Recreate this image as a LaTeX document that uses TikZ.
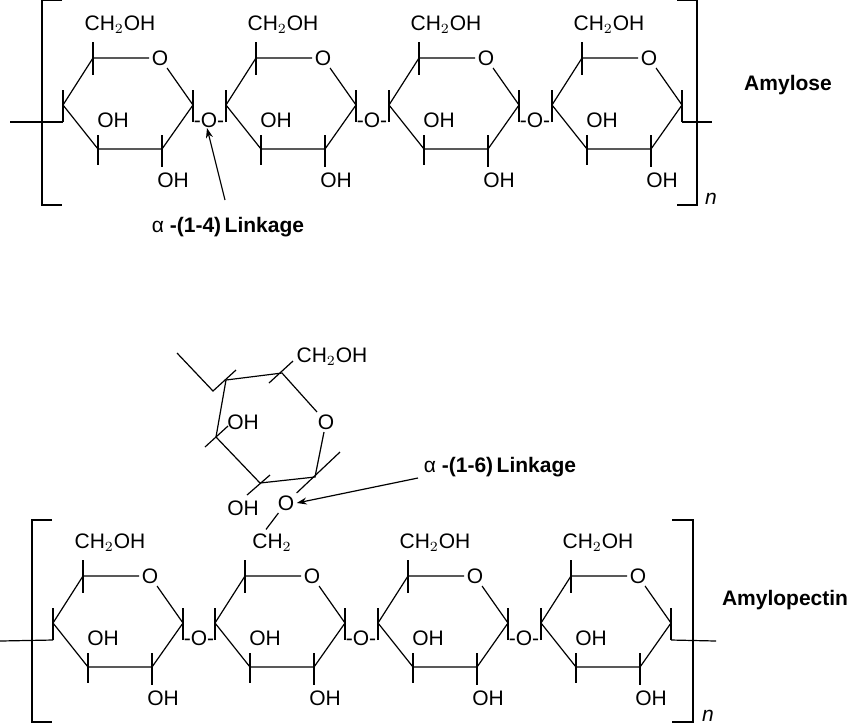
\documentclass[tikz,border=0pt]{standalone}
\usepackage{fontspec}
\setmainfont{Liberation Sans}
\usetikzlibrary{positioning,arrows.meta}

% one glucose ring: #1 name, #2 x, #3 y (left carbon), #4 group on C6
\newcommand\glucring[4]{%
  \begin{scope}[shift={(#2,#3)}]
    \coordinate (#1-L) at (0,0);
    \coordinate (#1-TL) at (30,-47);
    \node [atom] (#1-O) at (97,-47) {O};
    \coordinate (#1-R) at (130,0);
    \coordinate (#1-BR) at (99,44);
    \coordinate (#1-BL) at (35,44);
    \coordinate (#1-Lb) at (0,17);
    \coordinate (#1-Rb) at (130,17);
    \draw (#1-TL) -- (#1-O) -- (#1-R) -- (#1-BR) -- (#1-BL) -- (#1-L) -- (#1-TL);
    \draw (#1-TL) ++(0,-16) -- ++(0,33);
    \draw (#1-Lb) -- ++(0,-32);
    \draw (#1-Rb) -- ++(0,-32);
    \draw (#1-BL) ++(0,-14) -- ++(0,30);
    \draw (#1-BR) ++(0,-14) -- ++(0,32);
    \node [lbl] (#1-oh3) at (50,15) {OH};
    \node [lbl] (#1-oh2) at (110,75) {OH};
    \node [lbl] (#1-c6) at (57,-80) {#4};
  \end{scope}}

\tikzset{
  atom/.style={inner sep=1pt, font=\fontsize{10.5}{12}\selectfont},
  lbl/.style={inner sep=1pt, font=\fontsize{10.5}{12}\selectfont},
  link/.style={inner sep=0pt, font=\fontsize{10.5}{12}\selectfont},
  title/.style={font=\bfseries\fontsize{10.5}{12}\selectfont},
}

\begin{document}
\begin{tikzpicture}[x=0.5pt, y=-0.5pt, line width=0.6pt, >={Stealth[length=5pt,width=3.5pt]}]
  \useasboundingbox (0,0) rectangle (850,725);

  % amylose
  \foreach \i/\x in {1/63, 2/226, 3/389, 4/552}
    \glucring{a\i}{\x}{105}{CH$_2$OH};
  \foreach \i/\x in {1/63, 2/226, 3/389}
    \node [link] (ao\i) at (\x+146,120) {-O-};
  \coordinate (atl) at (10,122);
  \coordinate (atr) at (712,122);
  \draw (atl) -- (a1-Lb);
  \draw (a4-Rb) -- (atr);
  \draw (62,0) -- (42,0) -- (42,205) -- (62,205);
  \draw (677,0) -- (697,0) -- (697,205) -- (677,205);
  \node [lbl, font=\itshape\fontsize{10.5}{12}\selectfont] (an) at (711,199) {n};
  \node [title] (amylose) at (788,85) {Amylose};
  \node [title] (l14) at (228,227) {\mdseries α\bfseries\ -(1-4)\,Linkage};
  \coordinate (l14a) at (225,200);
  \draw [->] (l14a) -- ([xshift=-1pt]ao1.south);

  % amylopectin
  \glucring{b1}{53}{623}{CH$_2$OH}
  \glucring{b2}{215}{623}{CH$_2$}
  \glucring{b3}{378}{623}{CH$_2$OH}
  \glucring{b4}{541}{623}{CH$_2$OH}
  \foreach \i/\x in {1/53, 2/215, 3/378}
    \node [link] (bo\i) at (\x+146,638) {-O-};
  \coordinate (btl) at (0,641);
  \coordinate (btr) at (716,641);
  \draw (btl) -- (b1-Lb);
  \draw (b4-Rb) -- (btr);
  \draw (52,520) -- (32,520) -- (32,722) -- (52,722);
  \draw (672,520) -- (693,520) -- (693,722) -- (672,722);
  \node [lbl, font=\itshape\fontsize{10.5}{12}\selectfont] (bn) at (708,716) {n};
  \node [title] (amylopectin) at (785,600) {Amylopectin};

  % branch ring
  \coordinate (cTL) at (226,380);
  \coordinate (cTR) at (282,373);
  \node [atom] (cO) at (326,422) {O};
  \coordinate (cC1) at (315,477);
  \coordinate (cB) at (260,483);
  \coordinate (cL) at (216,437);
  \draw (cTL) -- (cTR) -- (cO) -- (cC1) -- (cB) -- (cL) -- (cTL);
  \coordinate (ctail) at (177,353);
  \coordinate (ctk) at (213,391);
  \draw (ctail) -- (ctk) -- (236,370);
  \draw (269,383) -- (293,361);
  \draw (205,447) -- (228,426);
  \draw (247,495) -- (270,475);
  \node [lbl] (c6) at (332,357) {CH$_2$OH};
  \node [lbl] (coh3) at (243,422) {OH};
  \node [lbl] (coh2) at (243,508) {OH};
  \node [atom] (cO6) at (286,503) {O};
  \draw (340,452) -- (cO6);
  \draw (cO6) -- ([xshift=-3pt,yshift=1pt]b2-c6.north);
  \node [title] (l16) at (500,467) {\mdseries α\bfseries\ -(1-6)\,Linkage};
  \coordinate (l16a) at (418,478);
  \draw [->] (l16a) -- (cO6.east);
\end{tikzpicture}
\end{document}
